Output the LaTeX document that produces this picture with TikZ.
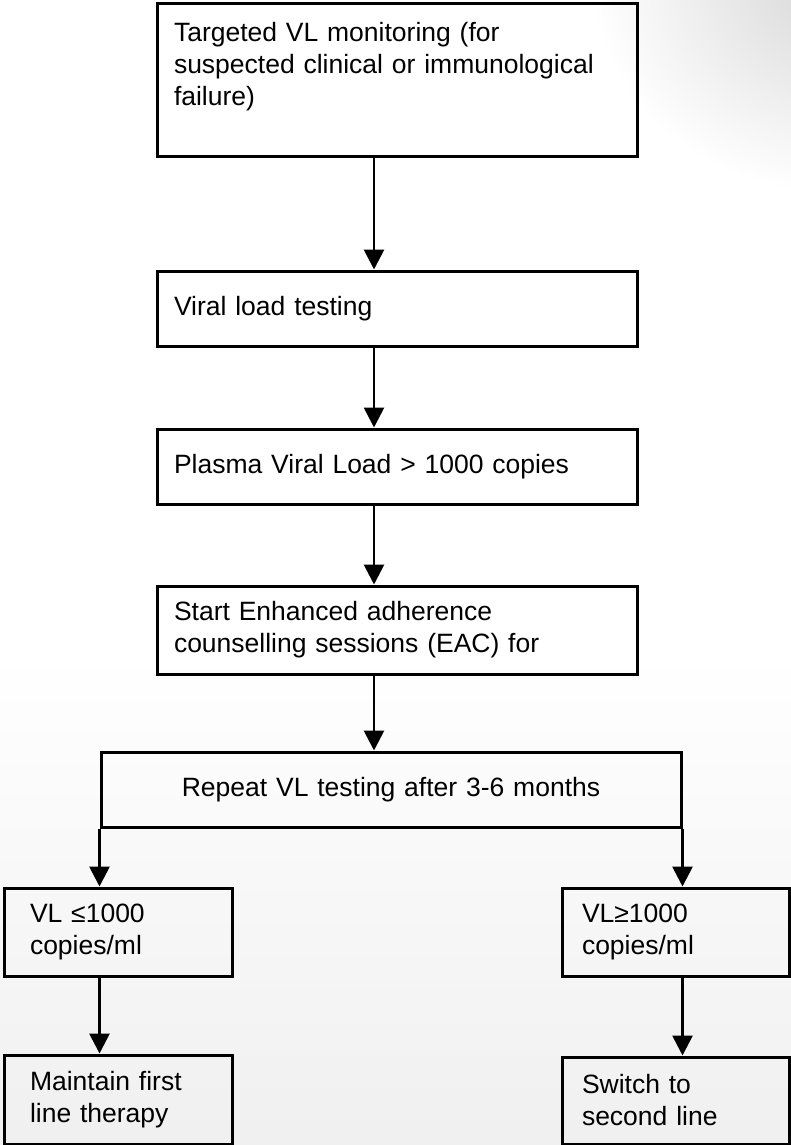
\documentclass[tikz,border=0pt]{standalone}
\usepackage{fontspec}
\setmainfont{Liberation Sans}
\usetikzlibrary{arrows.meta}

\begin{document}
\begin{tikzpicture}[
    x=1pt, y=-1pt,
    node distance=160pt,
    box/.style={rectangle, draw=black, line width=3pt, align=left, text width=446pt, inner xsep=17pt, inner ysep=0pt, font=\fontsize{26.5pt}{32pt}\selectfont},
    widebox/.style={box, align=center, text width=540pt, inner xsep=20pt},
    smallbox/.style={box, text width=176pt, inner xsep=26pt, minimum height=88pt},
    arr/.style={-{Triangle[width=20pt,length=20pt]}, line width=2.8pt}
]
\useasboundingbox (0,0) rectangle (791,1145);
\fill[white] (0,0) rectangle (791,1145);
\shade[top color=white, bottom color=black!6] (0,650) rectangle (791,1145);
\begin{scope}
\clip (0,0) rectangle (791,1145);
\shade[inner color=black!16, outer color=white] (840,-20) ellipse (250 and 215);
\end{scope}

\node[box, minimum height=152pt] (target) at (397,80) {Targeted VL monitoring (for\\suspected clinical or immunological\\failure)\\ \mbox{}};
\node[box, minimum height=75pt, below of=target, node distance=228.5pt] (vltest) {Viral load testing};
\node[box, minimum height=75pt, below of=vltest, node distance=158pt] (plasma) {Plasma Viral Load > 1000 copies};
\node[box, minimum height=88pt, below of=plasma, node distance=163.5pt] (eac) {Start Enhanced adherence\\counselling sessions (EAC) for};
\node[widebox, minimum height=75pt, below of=eac, node distance=159.5pt, xshift=-6pt] (retest) {Repeat VL testing after 3-6 months};
\node[smallbox, below of=retest, node distance=142.5pt, xshift=-273pt] (vllow) {VL ≤1000\\copies/ml};
\node[smallbox, text width=187pt, inner xsep=20pt, below of=retest, node distance=142.5pt, xshift=284.5pt] (vlhigh) {VL≥1000\\copies/ml};
\node[smallbox, minimum height=89pt, below of=vllow, node distance=167.5pt] (maintain) {Maintain first\\line therapy};
\node[smallbox, text width=187pt, inner xsep=20pt, minimum height=87pt, below of=vlhigh, node distance=168.5pt] (switch) {Switch to\\second line};

\coordinate (spine) at (374,0);
\draw[arr] (target.south -| spine) -- (vltest.north -| spine);
\draw[arr] (vltest.south -| spine) -- (plasma.north -| spine);
\draw[arr] (plasma.south -| spine) -- (eac.north -| spine);
\draw[arr] (eac.south -| spine) -- (retest.north -| spine);
\draw[arr] (retest.south west) -- (retest.south west |- vllow.north);
\draw[arr] (retest.south east) -- (retest.south east |- vlhigh.north);
\draw[arr] (vllow.south -| retest.south west) -- (maintain.north -| retest.south west);
\draw[arr] (vlhigh.south -| retest.south east) -- (switch.north -| retest.south east);
\end{tikzpicture}
\end{document}
